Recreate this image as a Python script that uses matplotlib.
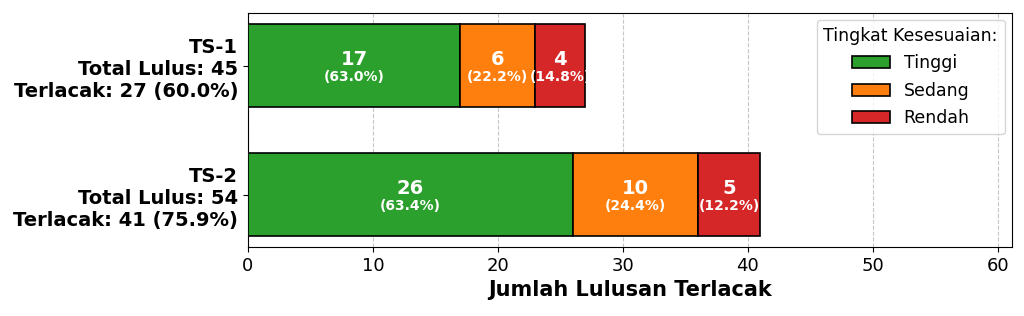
import matplotlib
matplotlib.use("Agg")
import matplotlib.pyplot as plt
import numpy as np

# data
groups = ["TS-1", "TS-2"]
total_lulus = [45, 54]
terlacak = [27, 41]
levels = ["Tinggi", "Sedang", "Rendah"]
tinggi = [17, 26]
sedang = [6, 10]
rendah = [4, 5]
colors = ["#2ca02c", "#ff7f0e", "#d62728"]

series = [tinggi, sedang, rendah]

fig, ax = plt.subplots(figsize=(10.24, 3.16), dpi=100)
fig.subplots_adjust(left=0.242, right=0.988, top=0.959, bottom=0.218)

y = np.arange(len(groups))
left = np.zeros(len(groups))
for vals, lvl, c in zip(series, levels, colors):
    vals = np.array(vals, dtype=float)
    ax.barh(y, vals, left=left, height=0.65, color=c, edgecolor="black",
            linewidth=1.2, label=lvl, zorder=3)
    for i, v in enumerate(vals):
        pct = v / terlacak[i] * 100
        xc = left[i] + v / 2
        ax.text(xc, y[i] - 0.05, f"{int(v)}", ha="center", va="center",
                color="white", fontsize=14, fontweight="bold", zorder=4)
        ax.text(xc, y[i] + 0.09, f"({pct:.1f}%)", ha="center", va="center",
                color="white", fontsize=10, fontweight="bold", zorder=4)
    left += vals

labels = [f"{g}\nTotal Lulus: {t}\nTerlacak: {k} ({k / t * 100:.1f}%)"
          for g, t, k in zip(groups, total_lulus, terlacak)]
ax.set_yticks(y)
ax.set_yticklabels(labels, fontsize=14, fontweight="bold")
ax.invert_yaxis()

ax.set_xlim(0, 61.1)
ax.set_xticks(range(0, 61, 10))
ax.tick_params(axis="x", labelsize=13)
ax.set_xlabel("Jumlah Lulusan Terlacak", fontsize=15, fontweight="bold")
ax.grid(axis="x", linestyle="--", alpha=0.7, zorder=0)
ax.set_axisbelow(True)

ax.legend(title="Tingkat Kesesuaian:", loc="upper right", fontsize=12.5,
          title_fontsize=12.5, handlelength=2.2, borderaxespad=0.4,
          labelspacing=0.55)

plt.savefig("out.png", dpi=100)
